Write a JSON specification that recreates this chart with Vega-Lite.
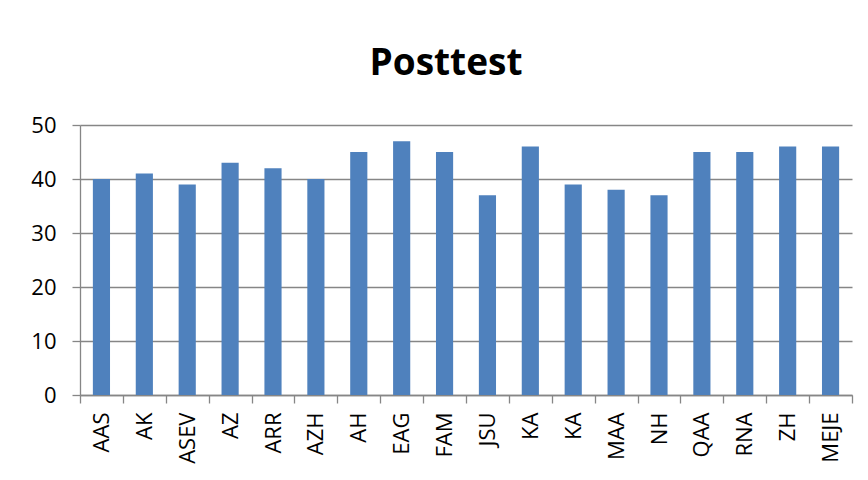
{
  "$schema": "https://vega.github.io/schema/vega-lite/v6.json",
  "autosize": {"type": "none"},
  "width": 772,
  "height": 270,
  "padding": {"left": 80, "top": 125, "right": 16, "bottom": 85},
  "background": "white",
  "title": {
    "text": "Posttest",
    "font": "Open Sans",
    "fontSize": 37,
    "fontWeight": "bold",
    "color": "black",
    "anchor": "middle",
    "frame": "group",
    "baseline": "alphabetic",
    "offset": 38,
    "dx": -20,
    "dy": 36
  },
  "data": {
    "values": [
      {"id": 1, "name": "AAS", "score": 40},
      {"id": 2, "name": "AK", "score": 41},
      {"id": 3, "name": "ASEV", "score": 39},
      {"id": 4, "name": "AZ", "score": 43},
      {"id": 5, "name": "ARR", "score": 42},
      {"id": 6, "name": "AZH", "score": 40},
      {"id": 7, "name": "AH", "score": 45},
      {"id": 8, "name": "EAG", "score": 47},
      {"id": 9, "name": "FAM", "score": 45},
      {"id": 10, "name": "JSU", "score": 37},
      {"id": 11, "name": "KA", "score": 46},
      {"id": 12, "name": "KA", "score": 39},
      {"id": 13, "name": "MAA", "score": 38},
      {"id": 14, "name": "NH", "score": 37},
      {"id": 15, "name": "QAA", "score": 45},
      {"id": 16, "name": "RNA", "score": 45},
      {"id": 17, "name": "ZH", "score": 46},
      {"id": 18, "name": "MEJE", "score": 46}
    ]
  },
  "mark": {"type": "bar", "color": "#4F81BD", "width": {"band": 0.4}},
  "encoding": {
    "x": {
      "field": "id",
      "type": "ordinal",
      "title": null,
      "scale": {"paddingInner": 0, "paddingOuter": 0},
      "axis": {
        "labelExpr": "['AAS','AK','ASEV','AZ','ARR','AZH','AH','EAG','FAM','JSU','KA','KA','MAA','NH','QAA','RNA','ZH','MEJE'][datum.value - 1]",
        "labelAngle": 270,
        "labelAlign": "right",
        "labelBaseline": "middle",
        "labelFont": "Open Sans",
        "labelFontSize": 22,
        "labelColor": "black",
        "labelPadding": 9,
        "tickBand": "extent",
        "tickSize": 8,
        "tickWidth": 1.3,
        "tickColor": "#868686",
        "domainColor": "#868686",
        "domainWidth": 1.3,
        "grid": false
      }
    },
    "y": {
      "field": "score",
      "type": "quantitative",
      "title": null,
      "scale": {"domain": [0, 50]},
      "axis": {
        "values": [0, 10, 20, 30, 40, 50],
        "labelFont": "Open Sans",
        "labelFontSize": 22,
        "labelColor": "black",
        "labelPadding": 16,
        "tickSize": 8,
        "tickWidth": 1.3,
        "tickColor": "#868686",
        "domainColor": "#868686",
        "domainWidth": 1.3,
        "gridColor": "#868686",
        "gridWidth": 1.3,
        "gridOpacity": 1
      }
    }
  },
  "config": {
    "view": {"stroke": null}
  }
}
